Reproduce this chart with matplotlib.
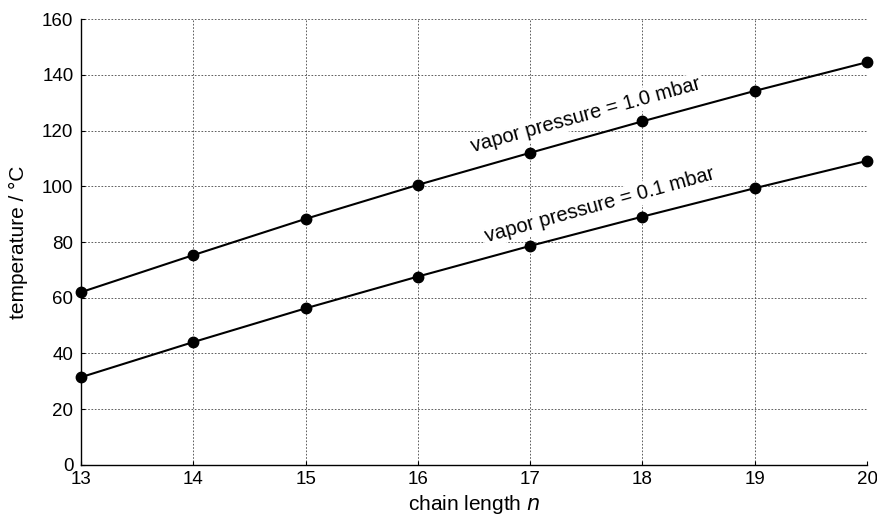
import matplotlib
matplotlib.use("Agg")
import matplotlib.pyplot as plt

plt.rcParams["font.family"] = ["Liberation Sans", "DejaVu Sans"]

# boiling temperature vs. alkane chain length at two vapor pressures
chain_length = [13, 14, 15, 16, 17, 18, 19, 20]
temp_1_0_mbar = [62.0, 75.3, 88.3, 100.5, 112.0, 123.3, 134.2, 144.5]
temp_0_1_mbar = [31.5, 44.1, 56.2, 67.6, 78.6, 89.1, 99.3, 109.1]

x_ticks = [13, 14, 15, 16, 17, 18, 19, 20]
y_ticks = [0, 20, 40, 60, 80, 100, 120, 140, 160]

fig = plt.figure(figsize=(8.77, 5.21), dpi=100)
ax = fig.add_axes([0.0924, 0.1075, 0.8962, 0.856])

for temps in (temp_1_0_mbar, temp_0_1_mbar):
    ax.plot(chain_length, temps, "o-", color="black", linewidth=1.5,
            markersize=7.5, zorder=3, clip_on=False)

ax.set_xlim(13, 20)
ax.set_ylim(0, 160)
ax.set_xticks(x_ticks)
ax.set_yticks(y_ticks)
ax.tick_params(direction="in", length=3, width=0.8, labelsize=13.5,
               color="black")
ax.tick_params(axis="x", pad=4)
ax.tick_params(axis="y", pad=5.5)
ax.grid(True, color="#444444", linestyle=(0, (2, 2)), linewidth=0.6)
ax.set_axisbelow(True)

for side in ("top", "right"):
    ax.spines[side].set_visible(False)
for side in ("left", "bottom"):
    ax.spines[side].set_linewidth(1.0)

ax.set_xlabel("chain length $n$", fontsize=15, labelpad=4)
ax.set_ylabel("temperature / °C", fontsize=15, labelpad=10)

label_box = dict(facecolor="white", edgecolor="none", pad=1.5)
ax.text(17.5, 125.6, "vapor pressure = 1.0 mbar", rotation=15.5,
        ha="center", va="center", fontsize=14.5, bbox=label_box, zorder=2)
ax.text(17.62, 93.3, "vapor pressure = 0.1 mbar", rotation=15.5,
        ha="center", va="center", fontsize=14.5, bbox=label_box, zorder=2)

fig.savefig("out.png", dpi=100)
